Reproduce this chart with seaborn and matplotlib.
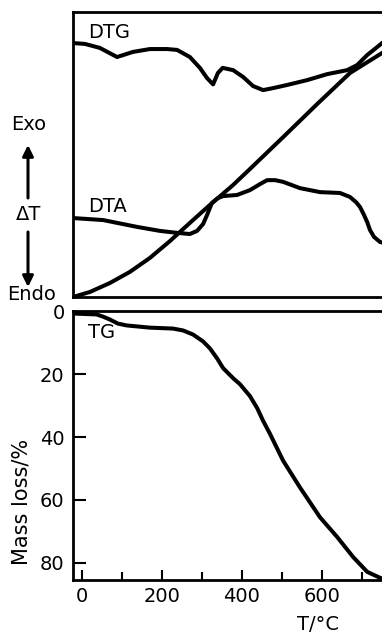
import matplotlib
matplotlib.use("Agg")
import matplotlib.pyplot as plt
import seaborn as sns

# ---------------- data ----------------
# DTG curve (arbitrary units, 0-100 of upper panel height)
dtg_T = [-22, 8, 45, 88, 128, 170, 213, 238, 270, 295, 313, 328, 340, 352, 378, 403, 428, 453, 478, 513, 563, 613, 663, 688, 713, 738, 750, 760]
dtg_y = [89.1, 88.8, 87.4, 84.2, 86.0, 87.0, 87.0, 86.7, 84.2, 80.4, 76.8, 74.6, 78.6, 80.4, 79.6, 77.2, 74.0, 72.6, 73.3, 74.4, 76.1, 78.2, 79.6, 81.4, 84.9, 87.7, 89.1, 90.0]

# DTA curve
dta_T = [-22, 53, 138, 195, 238, 270, 288, 303, 313, 325, 340, 353, 388, 420, 445, 463, 483, 503, 545, 595, 645, 670, 685, 695, 705, 713, 720, 730, 745, 760]
dta_y = [27.7, 27.0, 24.6, 23.2, 22.5, 22.1, 23.2, 25.6, 28.8, 33.0, 34.7, 35.4, 35.8, 37.5, 39.6, 41.0, 41.0, 40.4, 38.2, 36.8, 36.5, 35.1, 33.3, 31.6, 28.8, 26.3, 23.5, 21.1, 19.3, 18.8]

# Sample temperature trace
temp_T = [-22, 20, 70, 120, 170, 220, 270, 320, 378, 420, 503, 588, 670, 710, 750, 760]
temp_y = [0.0, 1.75, 4.9, 8.8, 13.7, 19.6, 26.0, 32.3, 39.3, 44.9, 56.1, 67.7, 78.6, 82.1, 85.6, 86.3]

# TG curve (mass loss, %)
tg_T = [-22, 37, 53, 70, 90, 112, 170, 228, 253, 278, 303, 320, 338, 353, 378, 395, 420, 438, 453, 470, 503, 545, 595, 638, 678, 713, 745, 760]
tg_m = [0.6, 0.9, 1.6, 2.5, 3.8, 4.4, 5.1, 5.4, 6.0, 7.3, 9.5, 11.7, 14.9, 18.0, 21.2, 23.1, 26.9, 30.7, 34.8, 38.9, 47.5, 56.0, 65.5, 71.8, 78.2, 82.9, 84.8, 85.3]

x_major = [0, 200, 400, 600]
x_minor = [100, 300, 500, 700]
y_ticks = [0, 20, 40, 60, 80]

# ---------------- figure ----------------
sns.set_theme(style="white")
plt.rcParams['font.family'] = ['DejaVu Sans']
plt.rcParams['text.color'] = 'black'
plt.rcParams['xtick.color'] = 'black'
plt.rcParams['ytick.color'] = 'black'
plt.rcParams['axes.labelcolor'] = 'black'

W, H = 382, 636
fig = plt.figure(figsize=(W / 100, H / 100), dpi=100)

def fx(px):
    return px / W

def fy(py):
    return 1 - py / H

left = fx(73)
ax1 = fig.add_axes([left, fy(297), 1.0 - left, fy(12) - fy(297)])
ax2 = fig.add_axes([left, fy(580), 1.0 - left, fy(311) - fy(580)])

lw = 2.9
for xs, ys in [(dtg_T, dtg_y), (dta_T, dta_y), (temp_T, temp_y)]:
    sns.lineplot(x=xs, y=ys, ax=ax1, color="black", lw=lw, sort=False, estimator=None)
sns.lineplot(x=tg_T, y=tg_m, ax=ax2, color="black", lw=lw, sort=False, estimator=None)

xmin, xmax = -22, 750
for ax in (ax1, ax2):
    ax.set_xlim(xmin, xmax)
    ax.set_facecolor("white")
    for s in ("left", "top", "bottom"):
        ax.spines[s].set_visible(True)
        ax.spines[s].set_color("black")
        ax.spines[s].set_linewidth(2.0)
    ax.spines["right"].set_visible(False)
    ax.set_xlabel("")
    ax.set_ylabel("")

ax1.set_ylim(0, 100)
ax1.set_xticks([])
ax1.set_yticks([])

fs = 14
ax2.set_ylim(85.5, -0.2)
ax2.set_xticks(x_major)
ax2.set_xticks(x_minor, minor=True)
ax2.set_xticklabels([str(v) for v in x_major])
ax2.set_yticks(y_ticks)
ax2.set_yticklabels([str(v) for v in y_ticks])
ax2.tick_params(axis="x", which="major", direction="in", length=7, width=1.5,
                color="black", labelsize=fs, pad=5, bottom=True, labelcolor="black")
ax2.tick_params(axis="x", which="minor", direction="in", length=5.5, width=1.5,
                color="black", bottom=True)
ax2.tick_params(axis="y", which="major", direction="in", length=9.5, width=1.5,
                color="black", labelsize=fs, pad=6, left=True, labelcolor="black")

# curve labels
fig.text(fx(88), fy(33), "DTG", fontsize=fs, ha="left", va="center", color="black")
fig.text(fx(88), fy(207), "DTA", fontsize=fs, ha="left", va="center", color="black")
fig.text(fx(88), fy(332), "TG", fontsize=fs, ha="left", va="center", color="black")

# Exo / Endo annotation
fig.text(fx(29), fy(125), "Exo", fontsize=fs, ha="center", va="center", color="black")
fig.text(fx(29), fy(215), "ΔT", fontsize=fs, ha="center", va="center", color="black")
fig.text(fx(32), fy(294), "Endo", fontsize=fs, ha="center", va="center", color="black")
arrow = dict(arrowstyle="-|>", lw=2.2, color="black", mutation_scale=16, shrinkA=0, shrinkB=0)
fig.add_artist(matplotlib.patches.FancyArrowPatch((fx(28), fy(198)), (fx(28), fy(145)),
                                                  transform=fig.transFigure, **arrow))
fig.add_artist(matplotlib.patches.FancyArrowPatch((fx(28), fy(232)), (fx(28), fy(287)),
                                                  transform=fig.transFigure, **arrow))

# axis titles
fig.text(fx(22), fy(502), "Mass loss/%", fontsize=fs + 1, rotation=90, ha="center", va="center", color="black")
fig.text(fx(318), fy(625), "T/°C", fontsize=fs, ha="center", va="center", color="black")

fig.savefig("out.png", dpi=100, facecolor="white")
